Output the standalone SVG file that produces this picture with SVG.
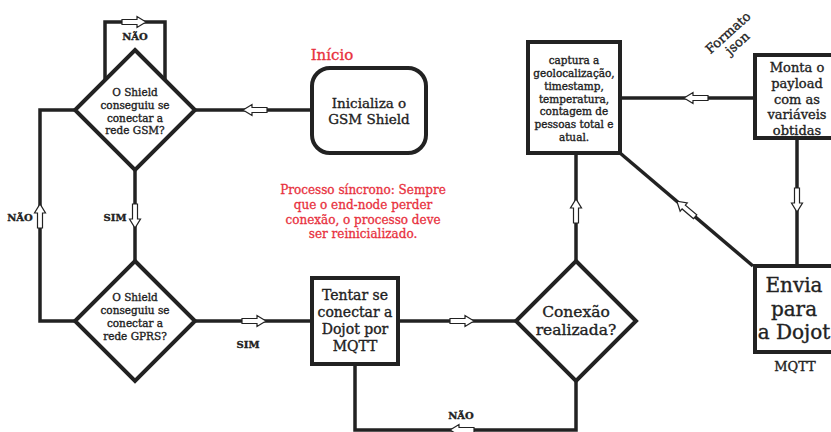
<svg xmlns="http://www.w3.org/2000/svg" width="831" height="432" viewBox="0 0 831 432">
<defs>
<style>
.ln{fill:none;stroke:#222;stroke-width:3.5;stroke-linejoin:miter}
.sh{fill:#fff;stroke:#222;stroke-width:4}
.t{font-family:"DejaVu Serif","Liberation Serif",serif;fill:#222;stroke:#222;stroke-width:0.35;text-anchor:middle}
.r{font-family:"DejaVu Serif","Liberation Serif",serif;fill:#e8303d;stroke:#e8303d;stroke-width:0.3;text-anchor:middle}
.arr{fill:#fff;stroke:#222;stroke-width:1.2;stroke-linejoin:miter}
</style>
<path id="ar" d="M-12,-2.5 H3 V-5.5 L12,0 L3,5.5 V2.5 H-12 Z"/>
</defs>
<rect width="831" height="432" fill="#fff"/>
<g id="connectors">
<polyline class="ln" points="105,80 105,22 165,22 165,80"/>
<polyline class="ln" points="75,110 40,110 40,321 75,321"/>
<line class="ln" x1="135" y1="170" x2="135" y2="261"/>
<line class="ln" x1="195" y1="110" x2="312" y2="110"/>
<line class="ln" x1="195" y1="321" x2="312" y2="321"/>
<line class="ln" x1="398" y1="321" x2="517" y2="321"/>
<polyline class="ln" points="576,381 576,430 355,430 355,364"/>
<line class="ln" x1="576" y1="261" x2="576" y2="153"/>
<line class="ln" x1="753" y1="98" x2="620" y2="98"/>
<line class="ln" x1="797" y1="138" x2="797" y2="266"/>
<line class="ln" x1="753" y1="266" x2="620" y2="153"/>
<use href="#ar" class="arr" transform="translate(134,22)"/>
<use href="#ar" class="arr" transform="translate(255,110) rotate(180)"/>
<use href="#ar" class="arr" transform="translate(40,216) rotate(-90)"/>
<use href="#ar" class="arr" transform="translate(135,216) rotate(90)"/>
<use href="#ar" class="arr" transform="translate(254,321)"/>
<use href="#ar" class="arr" transform="translate(462,321)"/>
<use href="#ar" class="arr" transform="translate(462,430) rotate(180)"/>
<use href="#ar" class="arr" transform="translate(576,211) rotate(-90)"/>
<use href="#ar" class="arr" transform="translate(696,98) rotate(180)"/>
<use href="#ar" class="arr" transform="translate(797,200) rotate(90)"/>
<use href="#ar" class="arr" transform="translate(686,209) rotate(220.35)"/>
<text class="t" x="135" y="40" font-size="10" font-weight="bold">NÃO</text>
<text class="t" x="20" y="221" font-size="10" font-weight="bold">NÃO</text>
<text class="t" x="115" y="221" font-size="10" font-weight="bold">SIM</text>
<text class="t" x="248" y="348" font-size="10" font-weight="bold">SIM</text>
<text class="t" x="461" y="419" font-size="10" font-weight="bold">NÃO</text>
</g>
<g id="start-label">
<text class="r" x="332" y="60" font-size="15">Início</text>
</g>
<g id="note">
<text class="r" font-size="12"><tspan x="363" y="194">Processo síncrono: Sempre</tspan><tspan x="363" y="209">que o end-node perder</tspan><tspan x="363" y="224">conexão, o processo deve</tspan><tspan x="363" y="238">ser reinicializado.</tspan></text>
</g>
<g id="init">
<rect class="sh" x="312" y="68" width="114" height="85" rx="18"/>
<text class="t" font-size="13.5"><tspan x="369" y="108">Inicializa o</tspan><tspan x="369" y="124">GSM Shield</tspan></text>
</g>
<g id="gsm">
<polygon class="sh" points="135,50 195,110 135,170 75,110"/>
<text class="t" font-size="10.5"><tspan x="135" y="96">O Shield</tspan><tspan x="135" y="109">conseguiu se</tspan><tspan x="135" y="122">conectar a</tspan><tspan x="135" y="134">rede GSM?</tspan></text>
</g>
<g id="gprs">
<polygon class="sh" points="135,261 195,321 135,381 75,321"/>
<text class="t" font-size="10.5"><tspan x="135" y="301">O Shield</tspan><tspan x="135" y="314">conseguiu se</tspan><tspan x="135" y="327">conectar a</tspan><tspan x="135" y="340">rede GPRS?</tspan></text>
</g>
<g id="tentar">
<rect class="sh" x="312" y="278" width="86" height="86"/>
<text class="t" font-size="14"><tspan x="355" y="300">Tentar se</tspan><tspan x="355" y="317">conectar a</tspan><tspan x="355" y="334">Dojot por</tspan><tspan x="355" y="351">MQTT</tspan></text>
</g>
<g id="conexao">
<polygon class="sh" points="576,261 636,321 576,381 516,321"/>
<text class="t" font-size="15.5"><tspan x="576" y="317">Conexão</tspan><tspan x="576" y="335">realizada?</tspan></text>
</g>
<g id="captura">
<rect class="sh" x="528" y="42" width="92" height="111"/>
<text class="t" font-size="10.5"><tspan x="574" y="64">captura a</tspan><tspan x="574" y="77">geolocalização,</tspan><tspan x="574" y="90">timestamp,</tspan><tspan x="574" y="103">temperatura,</tspan><tspan x="574" y="115">contagem de</tspan><tspan x="574" y="128">pessoas total e</tspan><tspan x="574" y="141">atual.</tspan></text>
</g>
<g id="monta">
<rect class="sh" x="755" y="55" width="80" height="83"/>
<text class="t" font-size="13"><tspan x="797" y="72">Monta o</tspan><tspan x="797" y="88">payload</tspan><tspan x="797" y="104">com as</tspan><tspan x="797" y="119">variáveis</tspan><tspan x="797" y="135">obtidas</tspan></text>
<text class="t" font-size="13" transform="translate(731,36) rotate(-42)"><tspan x="0" y="0">Formato</tspan><tspan x="0" y="14">json</tspan></text>
</g>
<g id="envia">
<rect class="sh" x="755" y="266" width="80" height="86"/>
<text class="t" font-size="20"><tspan x="794" y="292">Envia</tspan><tspan x="794" y="316">para</tspan><tspan x="794" y="339">a Dojot</tspan></text>
<text class="t" x="795" y="371" font-size="13">MQTT</text>
</g>
</svg>
